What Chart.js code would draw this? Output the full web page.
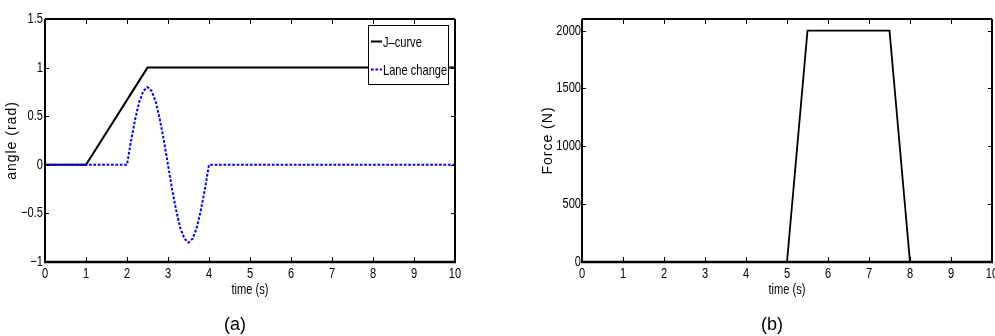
<!DOCTYPE html>
<html>
<head>
<meta charset="utf-8">
<script src="https://cdn.jsdelivr.net/npm/chart.js@4.4.1/dist/chart.umd.min.js"></script>
<style>
  html, body { margin: 0; padding: 0; background: #fff; }
  .box { position: absolute; top: 0; height: 336px; }
</style>
</head>
<body>
<div class="box" style="left:0;width:470px"><canvas id="ca" width="470" height="336"></canvas></div>
<div class="box" style="left:520px;width:475px"><canvas id="cb" width="475" height="336"></canvas></div>
<script>
// ---------- data ----------
const timeTicks = [0, 1, 2, 3, 4, 5, 6, 7, 8, 9, 10];
const angleTicks = [-1, -0.5, 0, 0.5, 1, 1.5];
const forceTicks = [0, 500, 1000, 1500, 2000];

const timeJ = [0, 1, 2.5, 10];
const jCurve = [0, 0, 1, 1];

const timeLane = [0, 2.0, 2.1, 2.2, 2.3, 2.4, 2.5, 2.6, 2.7, 2.8, 2.9, 3.0,
                  3.1, 3.2, 3.3, 3.4, 3.5, 3.6, 3.7, 3.8, 3.9, 4.0, 10];
const laneChange = [0, 0, 0.25, 0.47, 0.65, 0.76, 0.80, 0.76, 0.65, 0.47, 0.25, 0,
                    -0.25, -0.47, -0.65, -0.76, -0.80, -0.76, -0.65, -0.47, -0.25, 0, 0];

const timeForce = [0, 5, 5.5, 7.5, 8, 10];
const force = [0, 0, 2000, 2000, 0, 0];

const seriesNames = ['J\u2013curve', 'Lane change'];

// ---------- helpers ----------
const REG = "'Liberation Sans', Arial, sans-serif";
const NARROW_SIZE = 14.5;
const NARROW_SCALE = 0.765;
const pts = (xs, ys) => xs.map((x, i) => ({ x: x, y: ys[i] }));
const fmtNum = v => (v < 0 ? '\u2212' + Math.abs(v) : String(v));

function narrowText(ctx, text, x, y, align) {
  ctx.save();
  ctx.translate(x, y);
  ctx.scale(NARROW_SCALE, 1);
  ctx.font = NARROW_SIZE + 'px ' + REG;
  ctx.textAlign = align;
  ctx.textBaseline = 'middle';
  ctx.fillStyle = '#000';
  ctx.fillText(text, 0, 0);
  ctx.restore();
}

function framePlugin(cfg) {
  return {
    id: 'frame',
    afterDatasetsDraw(chart) {
      const ctx = chart.ctx;
      const a = chart.chartArea;
      const xs = chart.scales.x, ys = chart.scales.y;
      ctx.save();
      ctx.strokeStyle = '#000';
      // inward ticks
      ctx.lineWidth = 1;
      ctx.beginPath();
      cfg.xTicks.forEach(v => {
        const px = Math.round(xs.getPixelForValue(v)) + 0.5;
        ctx.moveTo(px, a.bottom); ctx.lineTo(px, a.bottom - 5);
        ctx.moveTo(px, a.top); ctx.lineTo(px, a.top + 5);
      });
      cfg.yTicks.forEach(v => {
        const py = Math.round(ys.getPixelForValue(v)) + 0.5;
        ctx.moveTo(a.left, py); ctx.lineTo(a.left + 4, py);
        ctx.moveTo(a.right, py); ctx.lineTo(a.right - 4, py);
      });
      ctx.stroke();
      // box
      ctx.lineWidth = 2;
      ctx.beginPath();
      ctx.moveTo(a.left, a.top); ctx.lineTo(a.right, a.top);
      ctx.moveTo(a.right, a.top); ctx.lineTo(a.right, a.bottom);
      ctx.moveTo(a.left, a.top); ctx.lineTo(a.left, a.bottom);
      ctx.stroke();
      ctx.lineWidth = 2.5;
      ctx.beginPath();
      ctx.moveTo(a.left - 1, a.bottom); ctx.lineTo(a.right + 1, a.bottom);
      ctx.stroke();
      ctx.restore();
    },
    afterDraw(chart) {
      const ctx = chart.ctx;
      const a = chart.chartArea;
      const xs = chart.scales.x, ys = chart.scales.y;
      ctx.save();
      // tick labels
      cfg.xTicks.forEach(v => narrowText(ctx, fmtNum(v), xs.getPixelForValue(v), 273.5, 'center'));
      cfg.yTicks.forEach(v => narrowText(ctx, fmtNum(v), a.left - cfg.yPad, ys.getPixelForValue(v), 'right'));
      // x title
      narrowText(ctx, cfg.xTitle, (a.left + a.right) / 2, 290, 'center');
      // panel label
      ctx.fillStyle = '#000';
      ctx.font = '18px ' + REG;
      ctx.textAlign = 'center';
      ctx.textBaseline = 'middle';
      ctx.fillText(cfg.panel, cfg.panelX, 325);
      // y title
      ctx.save();
      ctx.translate(cfg.yTitleX, (a.top + a.bottom) / 2);
      ctx.rotate(-Math.PI / 2);
      ctx.font = '14px ' + REG;
      try { ctx.letterSpacing = '1px'; } catch (e) {}
      ctx.fillText(cfg.yTitle, 0, 0);
      ctx.restore();
      // legend
      if (cfg.legend) {
        const L = cfg.legend;
        ctx.fillStyle = '#fff';
        ctx.fillRect(L.x, L.y, L.w, L.h);
        ctx.strokeStyle = '#000';
        ctx.lineWidth = 1;
        ctx.strokeRect(L.x + 0.5, L.y + 0.5, L.w, L.h);
        chart.data.datasets.slice().reverse().forEach((ds, i) => {
          const yy = L.y + 16.5 + i * 28;
          ctx.save();
          ctx.strokeStyle = ds.borderColor;
          ctx.lineWidth = 2;
          ctx.setLineDash(ds.borderDash || []);
          ctx.beginPath();
          ctx.moveTo(L.x + 3, yy); ctx.lineTo(L.x + 14, yy);
          ctx.stroke();
          ctx.restore();
          narrowText(ctx, ds.label, L.x + 15, yy + 1, 'left');
        });
      }
      ctx.restore();
    }
  };
}

function baseOptions(o) {
  return {
    responsive: false,
    animation: false,
    devicePixelRatio: 1,
    layout: { padding: o.padding },
    plugins: { legend: { display: false }, tooltip: { enabled: false } },
    elements: { point: { radius: 0 }, line: { tension: 0 } },
    scales: {
      x: {
        type: 'linear', min: 0, max: 10,
        grid: { display: false, drawTicks: false },
        border: { display: false },
        afterBuildTicks: s => { s.ticks = timeTicks.map(v => ({ value: v })); },
        afterFit: s => { s.height = 74; s.paddingLeft = 0; s.paddingRight = 0; },
        ticks: { display: false }
      },
      y: {
        type: 'linear', min: o.yMin, max: o.yMax,
        grid: { display: false, drawTicks: false },
        border: { display: false },
        afterBuildTicks: s => { s.ticks = o.yTicks.map(v => ({ value: v })); },
        afterFit: s => { s.width = o.yWidth; s.paddingTop = 0; s.paddingBottom = 0; },
        ticks: { display: false }
      }
    }
  };
}

new Chart(document.getElementById('ca'), {
  type: 'line',
  data: {
    datasets: [
      { label: seriesNames[1], data: pts(timeLane, laneChange), borderColor: '#0000ff',
        borderWidth: 2, borderDash: [2.7, 1.7], fill: false },
      { label: seriesNames[0], data: pts(timeJ, jCurve), borderColor: '#000000',
        borderWidth: 2, fill: false }
    ]
  },
  options: baseOptions({ padding: { left: 0, top: 19, right: 15, bottom: 0 },
                         yMin: -1, yMax: 1.5, yTicks: angleTicks, yWidth: 45 }),
  plugins: [framePlugin({ xTicks: timeTicks, yTicks: angleTicks, yPad: 2, xTitle: 'time (s)',
                          yTitle: 'angle (rad)', yTitleX: 12, panel: '(a)', panelX: 235,
                          legend: { x: 368, y: 25, w: 80, h: 59 } })]
});

new Chart(document.getElementById('cb'), {
  type: 'line',
  data: {
    datasets: [
      { label: 'Force', data: pts(timeForce, force), borderColor: '#000000',
        borderWidth: 1.8, fill: false }
    ]
  },
  options: baseOptions({ padding: { left: 0, top: 19, right: 3, bottom: 0 },
                         yMin: 0, yMax: 2100, yTicks: forceTicks, yWidth: 62 }),
  plugins: [framePlugin({ xTicks: timeTicks, yTicks: forceTicks, yPad: 1, xTitle: 'time (s)',
                          yTitle: 'Force (N)', yTitleX: 28, panel: '(b)', panelX: 252 })]
});
</script>
</body>
</html>
